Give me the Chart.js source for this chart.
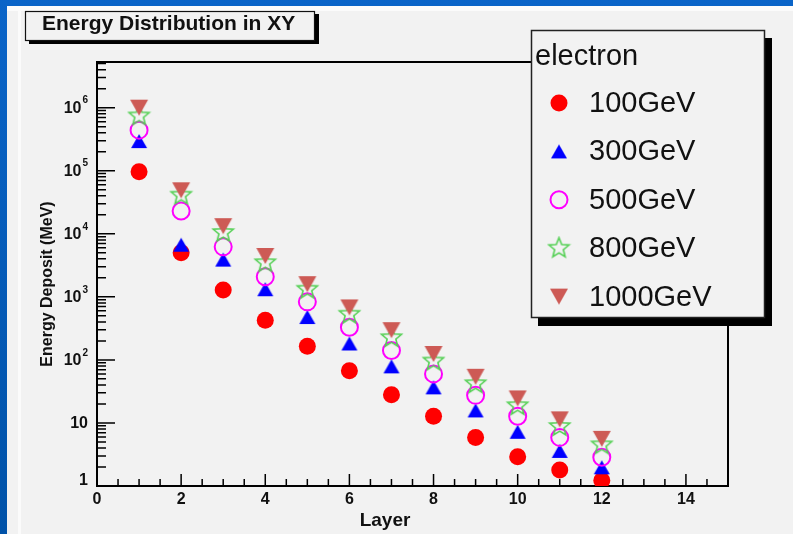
<!DOCTYPE html>
<html><head><meta charset="utf-8">
<script src="https://cdn.jsdelivr.net/npm/chart.js@4/dist/chart.umd.min.js"></script>
<style>html,body{margin:0;padding:0;background:#f2f2f2;overflow:hidden}canvas{display:block}</style>
</head><body>
<canvas id="c" width="793" height="534"></canvas>
<script>
// ---- data ----
const layers = [1,2,3,4,5,6,7,8,9,10,11,12];
const e100  = [9.6e4, 5000, 1280, 427, 164, 67, 28, 12.8, 5.9, 2.9, 1.8, 1.22];
const e300  = [2.95e5, 6700, 3900, 1320, 478, 182, 79, 36.7, 15.8, 7.25, 3.6, 1.98];
const e500  = [4.4e5, 2.3e4, 6200, 2080, 832, 330, 141, 60, 27.4, 12.8, 5.9, 2.86];
const e800  = [7.4e5, 4.1e4, 1.05e4, 3480, 1320, 530, 225, 96, 42, 18.8, 8.8, 4.5];
const e1000 = [1.0e6, 4.9e4, 1.32e4, 4450, 1590, 680, 296, 124, 54, 24.5, 11.4, 5.6];
const seriesNames = ['100GeV','300GeV','500GeV','800GeV','1000GeV'];
const legendHeader = 'electron';
const chartTitle = 'Energy Distribution in XY';
const xTitle = 'Layer';
const yTitle = 'Energy Deposit (MeV)';
const xTicks = [0,2,4,6,8,10,12,14];
const xTickLabels = ['0','2','4','6','8','10','12','14'];
const yTicks = [1,10,100,1000,1e4,1e5,1e6];
const yTickBase = ['1','10','10','10','10','10','10'];
const yTickExp  = ['','','2','3','4','5','6'];

// ---- marker images ----
function makeTri(color, w, h, down){
  const c=document.createElement('canvas'); c.width=w+2; c.height=h+2;
  const g=c.getContext('2d'); g.fillStyle=color; g.beginPath();
  if(!down){ g.moveTo(1+w/2,1); g.lineTo(1+w,1+h); g.lineTo(1,1+h); }
  else { g.moveTo(1,1); g.lineTo(1+w,1); g.lineTo(1+w/2,1+h); }
  g.closePath(); g.fill(); return c;
}
function makeStar(color, R, r){
  const s=Math.ceil(2*R+4); const c=document.createElement('canvas'); c.width=s; c.height=s;
  const g=c.getContext('2d'); g.strokeStyle=color; g.lineWidth=1.6; g.beginPath();
  for(let i=0;i<10;i++){ const rad=(i%2===0)?R:r; const a=-Math.PI/2+i*Math.PI/5;
    const px=s/2+rad*Math.cos(a), py=s/2+rad*Math.sin(a); i===0?g.moveTo(px,py):g.lineTo(px,py);}
  g.closePath(); g.stroke(); return c;
}
const triUp = makeTri('#0000ff',16,14,false);
const triDown = makeTri('#cd5a55',18,16,true);
const starImg = makeStar('#55d055',10.5,4.6);

const pts = arr => layers.map((l,i)=>({x:l,y:arr[i]}));
const datasets = [
  {label:seriesNames[0], data:pts(e100), pointStyle:'circle', pointRadius:8.5, backgroundColor:'#ff0000', borderColor:'#ff0000', borderWidth:0, order:5},
  {label:seriesNames[1], data:pts(e300), pointStyle:triUp, order:4},
  {label:seriesNames[2], data:pts(e500), pointStyle:'circle', pointRadius:8.5, backgroundColor:'rgba(0,0,0,0)', borderColor:'#ff00ff', borderWidth:2, order:3},
  {label:seriesNames[3], data:pts(e800), pointStyle:starImg, order:2},
  {label:seriesNames[4], data:pts(e1000), pointStyle:triDown, order:1}
];

function drawMarker(ctx, ds, x, y){
  const ps = ds.pointStyle;
  if (ps instanceof HTMLCanvasElement){ ctx.drawImage(ps, x-ps.width/2, y-ps.height/2); return; }
  ctx.beginPath(); ctx.arc(x,y,ds.pointRadius,0,Math.PI*2);
  if (ds.borderWidth>0){ ctx.lineWidth=ds.borderWidth; ctx.strokeStyle=ds.borderColor; ctx.stroke(); }
  else { ctx.fillStyle=ds.backgroundColor; ctx.fill(); }
}
const F = '"Liberation Sans", Arial, sans-serif';

const deco = {
  id:'deco',
  beforeDraw(chart){
    const ctx=chart.ctx, W=chart.width, H=chart.height;
    ctx.save();
    ctx.fillStyle='#f2f2f2'; ctx.fillRect(0,0,W,H);
    const gr=ctx.createLinearGradient(0,0,0,H); gr.addColorStop(0,'#0a64c8'); gr.addColorStop(1,'#0052a8');
    ctx.fillStyle='#fbfbfb'; ctx.fillRect(0,6,W,5); ctx.fillRect(18,0,3,H);
    ctx.fillStyle=gr; ctx.fillRect(0,0,W,6); ctx.fillRect(0,0,7,H);
    // title box
    ctx.fillStyle='#000'; ctx.fillRect(29,14,290,30);
    ctx.fillStyle='#f2f2f2'; ctx.fillRect(25,11,290,30);
    ctx.strokeStyle='#111'; ctx.lineWidth=1.2; ctx.strokeRect(25.5,11.5,289,29);
    ctx.fillStyle='#111'; ctx.font='bold 21px '+F;
    ctx.textBaseline='alphabetic'; ctx.textAlign='left'; ctx.fillText(chartTitle,42,30);
    ctx.restore();
  },
  beforeDatasetsDraw(chart){
    const {ctx, chartArea:a, scales:{x,y}} = chart;
    ctx.save();
    ctx.strokeStyle='#000';
    ctx.lineWidth=1.5;
    ctx.beginPath();
    for(let v=0; v<=15; v+=0.5){
      const px=x.getPixelForValue(v); const len=(v%2===0)?12:7;
      ctx.moveTo(px,a.bottom); ctx.lineTo(px,a.bottom-len);
    }
    for(let d=0; d<=7; d++){
      for(let m=1;m<=9;m++){
        const v=m*Math.pow(10,d); if(v>y.max) break;
        const py=y.getPixelForValue(v); const len=(m===1)?18:9;
        ctx.moveTo(a.left,py); ctx.lineTo(a.left+len,py);
      }
    }
    ctx.stroke();
    ctx.lineWidth=2;
    ctx.strokeRect(a.left,a.top,a.right-a.left,a.bottom-a.top);
    // tick labels
    ctx.fillStyle='#111';
    ctx.font='bold 16px '+F;
    ctx.textAlign='center'; ctx.textBaseline='middle';
    xTicks.forEach((v,i)=>ctx.fillText(xTickLabels[i], x.getPixelForValue(v), a.bottom+14));
    yTicks.forEach((v,i)=>{
      let py=y.getPixelForValue(v); if(py>a.bottom-6) py=a.bottom-6;
      const base=yTickBase[i], ex=yTickExp[i];
      ctx.font='bold 10px '+F;
      const ew = ex ? ctx.measureText(ex).width+1 : 0;
      const right=a.left-9;
      if(ex){ ctx.textAlign='right'; ctx.fillText(ex,right,py-7); }
      ctx.font='bold 16px '+F;
      ctx.textAlign='right'; ctx.fillText(base,right-ew,py+1);
    });
    // axis titles
    ctx.font='bold 19px '+F;
    ctx.textAlign='center'; ctx.textBaseline='alphabetic';
    ctx.fillText(xTitle,385,526);
    ctx.save(); ctx.translate(52,284); ctx.rotate(-Math.PI/2);
    ctx.font='bold 16px '+F;
    ctx.fillText(yTitle,0,0); ctx.restore();
    ctx.restore();
  },
  afterDatasetsDraw(chart){
    const ctx=chart.ctx;
    ctx.save();
    const bx=531, by=30, bw=234, bh=288;
    ctx.fillStyle='#000'; ctx.fillRect(bx+7,by+8,bw,bh);
    ctx.fillStyle='#f2f2f2'; ctx.fillRect(bx,by,bw,bh);
    ctx.strokeStyle='#222'; ctx.lineWidth=1.5; ctx.strokeRect(bx+0.5,by+0.5,bw-1,bh-1);
    ctx.fillStyle='#111'; ctx.font='29px '+F;
    ctx.textAlign='left'; ctx.textBaseline='middle';
    ctx.fillText(legendHeader,535,57);
    chart.data.datasets.forEach((ds,i)=>{
      const cy=103+i*48.4;
      drawMarker(ctx, ds, 559, cy);
      ctx.fillStyle='#111'; ctx.font='29px '+F;
      ctx.fillText(ds.label,589,cy+1);
    });
    ctx.restore();
  }
};

new Chart(document.getElementById('c'), {
  type:'scatter',
  data:{datasets},
  options:{
    responsive:false, animation:false, devicePixelRatio:1, events:[],
    layout:{padding:{left:97, top:62, right:65, bottom:48}},
    scales:{
      x:{type:'linear', min:0, max:15, display:false},
      y:{type:'logarithmic', min:1, max:5.3e6, display:false}
    },
    elements:{point:{radius:9, hoverRadius:9}},
    plugins:{legend:{display:false}, tooltip:{enabled:false}, title:{display:false}}
  },
  plugins:[deco]
});
</script>
</body></html>
